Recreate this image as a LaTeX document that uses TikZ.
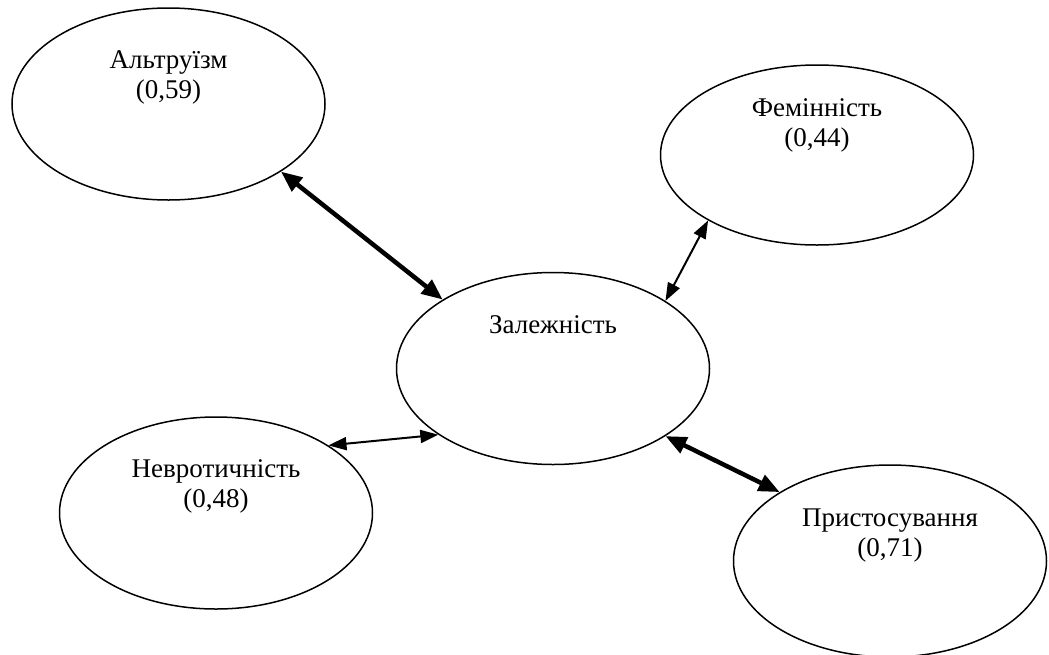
\documentclass[tikz,border=0pt]{standalone}
\usepackage{fontspec}
\setmainfont{Liberation Serif}
\usetikzlibrary{shapes.geometric, arrows.meta, positioning}

\begin{document}
\begin{tikzpicture}[
		x=1pt, y=-1pt,
		factor/.style = {shape=ellipse, draw, line width=1.5pt, minimum width=313pt, minimum height=192pt, inner sep=0pt},
		caption/.style = {align=center, inner sep=0pt, font=\fontsize{27}{30}\selectfont},
		weak/.style = {{Triangle[length=18pt, width=13pt]}-{Triangle[length=18pt, width=13pt]}, line width=2pt},
		strong/.style = {{Triangle[length=21pt, width=17pt]}-{Triangle[length=21pt, width=17pt]}, line width=4.5pt}]
		\useasboundingbox (0,0) rectangle (1049,654);
		\node[factor] (dep) at (553,368.5) {};
		\node[factor] (alt) at (168.5,104) {};
		\node[factor, minimum height=180pt] (fem) at (817,155) {};
		\node[factor] (neur) at (216,513) {};
		\node[factor] (adapt) at (890,561) {};
		\node[caption, below=44pt of dep.north] (depT) {Залежність};
		\node[caption, below=43pt of alt.north] (altT) {Альтруїзм\\(0,59)};
		\node[caption, below=34pt of fem.north] (femT) {Фемінність\\(0,44)};
		\node[caption, below=43pt of neur.north] (neurT) {Невротичність\\(0,48)};
		\node[caption, below=44pt of adapt.north] (adaptT) {Пристосування\\(0,71)};
		\draw[strong] (alt.-31.5) -- (dep.148.3);
		\draw[weak] (dep.31.9) -- (fem.211.3);
		\draw[weak] (neur.31.3) -- (dep.210.9);
		\draw[strong] (dep.-31.9) -- (adapt.148.7);
	\end{tikzpicture}
\end{document}
